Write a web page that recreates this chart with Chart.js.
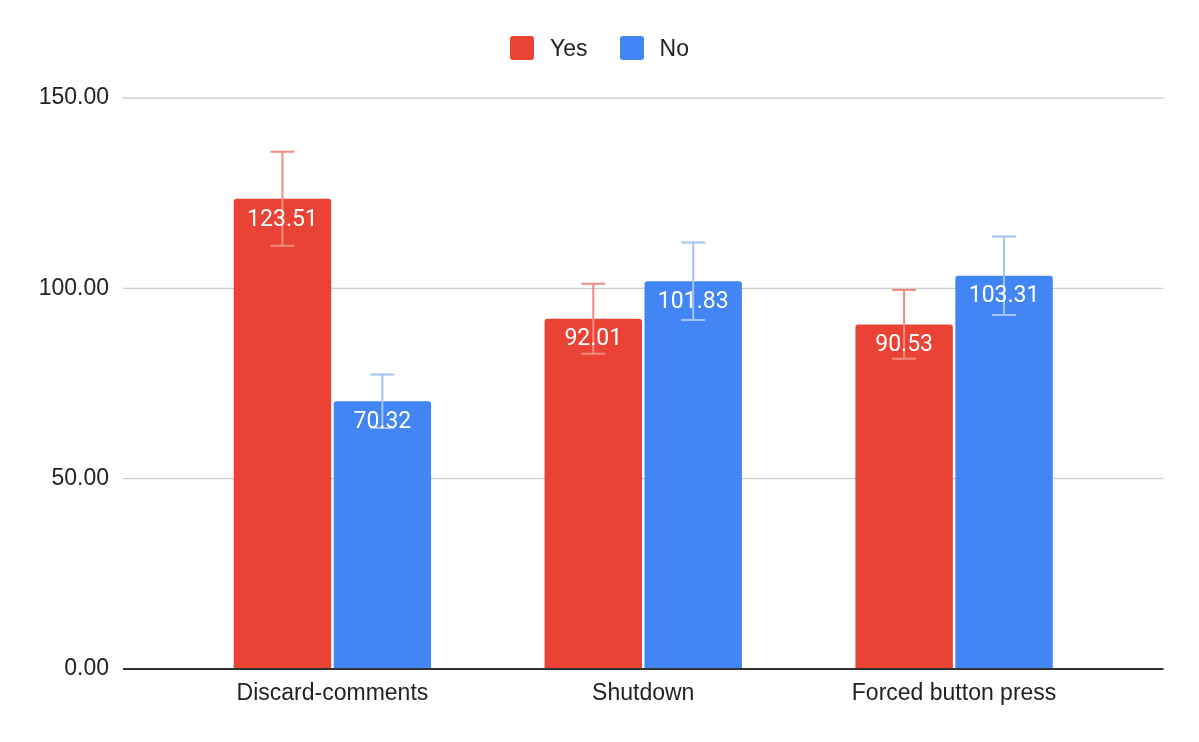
<!DOCTYPE html>
<html>
<head>
<meta charset="utf-8">
<script src="https://cdn.jsdelivr.net/npm/chart.js@4.4.1/dist/chart.umd.min.js"></script>
<style>
  html, body { margin: 0; padding: 0; background: #fff; }
  #wrap { position: relative; width: 1199px; height: 742px; }
  #legend {
    position: absolute; top: 36px; left: 0; width: 100%;
    display: flex; justify-content: center;
    font-family: "Liberation Sans", Arial, sans-serif; font-size: 23px; color: #222;
    line-height: 24px;
  }
  .legend-item { display: flex; align-items: center; margin: 0 16px; }
  .legend-swatch { width: 24px; height: 24px; border-radius: 3px; margin-right: 16px; }
</style>
</head>
<body>
<div id="wrap">
  <canvas id="chart"></canvas>
  <div id="legend"></div>
</div>
<script>
// Chart data
const categories = ["Discard-comments", "Shutdown", "Forced button press"];
const yesValues = [123.51, 92.01, 90.53];
const noValues = [70.32, 101.83, 103.31];
const yesErrors = [12.35, 9.20, 9.05];
const noErrors = [7.03, 10.18, 10.33];
const yTicks = [0, 50, 100, 150];

const AXIS_FONT = "'Liberation Sans', Arial, sans-serif";
const LABEL_FONT = "Roboto, 'Liberation Sans', sans-serif";
const GRID_OVERHANG = 54;

const series = [
  { label: "Yes", data: yesValues, errors: yesErrors, color: "#ea4335", errColor: "#f28b82" },
  { label: "No", data: noValues, errors: noErrors, color: "#4285f4", errColor: "#a4c2f6" }
];

// gridlines, baseline, error bars and value labels
const chartDecor = {
  id: "chartDecor",
  beforeDatasetsDraw(chart) {
    const { ctx, chartArea, scales: { y } } = chart;
    ctx.save();
    ctx.strokeStyle = "#cccccc";
    ctx.lineWidth = 1.3;
    y.ticks.forEach(t => {
      if (t.value === 0) return;
      const py = y.getPixelForValue(t.value);
      ctx.beginPath();
      ctx.moveTo(chartArea.left - GRID_OVERHANG, py);
      ctx.lineTo(chartArea.right + GRID_OVERHANG, py);
      ctx.stroke();
    });
    ctx.restore();
  },
  afterDatasetsDraw(chart) {
    const { ctx, chartArea, scales: { y } } = chart;
    ctx.save();

    // error bars
    chart.data.datasets.forEach((ds, i) => {
      const meta = chart.getDatasetMeta(i);
      ctx.strokeStyle = ds.errColor;
      ctx.lineWidth = 2;
      meta.data.forEach((bar, j) => {
        const v = ds.data[j];
        const e = ds.errors[j];
        const top = y.getPixelForValue(v + e);
        const bottom = y.getPixelForValue(v - e);
        ctx.beginPath();
        ctx.moveTo(bar.x, top);
        ctx.lineTo(bar.x, bottom);
        ctx.moveTo(bar.x - 12, top);
        ctx.lineTo(bar.x + 12, top);
        ctx.moveTo(bar.x - 12, bottom);
        ctx.lineTo(bar.x + 12, bottom);
        ctx.stroke();
      });
    });

    // value labels
    ctx.fillStyle = "#ffffff";
    ctx.font = "23px " + LABEL_FONT;
    ctx.textAlign = "center";
    ctx.textBaseline = "middle";
    chart.data.datasets.forEach((ds, i) => {
      const meta = chart.getDatasetMeta(i);
      meta.data.forEach((bar, j) => {
        ctx.fillText(ds.data[j].toFixed(2), bar.x, bar.y + 21);
      });
    });

    // baseline
    const y0 = y.getPixelForValue(0);
    ctx.strokeStyle = "#333333";
    ctx.lineWidth = 2;
    ctx.beginPath();
    ctx.moveTo(chartArea.left - GRID_OVERHANG, y0);
    ctx.lineTo(chartArea.right + GRID_OVERHANG, y0);
    ctx.stroke();

    ctx.restore();
  }
};

const ctx = document.getElementById("chart").getContext("2d");
new Chart(ctx, {
  type: "bar",
  data: {
    labels: categories,
    datasets: series.map(s => ({
      label: s.label,
      data: s.data,
      errors: s.errors,
      errColor: s.errColor,
      backgroundColor: s.color,
      borderRadius: 3,
      categoryPercentage: 0.643,
      barPercentage: 0.975
    }))
  },
  options: {
    responsive: true,
    maintainAspectRatio: false,
    animation: false,
    layout: { padding: { top: 98, right: 89.5, bottom: 0, left: 0 } },
    plugins: {
      legend: { display: false }, // HTML legend below
      tooltip: { enabled: false }
    },
    scales: {
      x: {
        grid: { display: false, drawTicks: false },
        border: { display: false },
        ticks: {
          color: "#222222",
          padding: 11,
          font: { family: AXIS_FONT, size: 23 }
        },
        afterFit(scale) {
          scale.height = 73;
          scale.paddingLeft = 0;
          scale.paddingRight = 0;
        }
      },
      y: {
        min: yTicks[0],
        max: yTicks[yTicks.length - 1],
        grid: { display: false, drawTicks: false },
        border: { display: false },
        afterBuildTicks(scale) {
          scale.ticks = yTicks.map(v => ({ value: v }));
        },
        ticks: {
          color: "#222222",
          padding: 68,
          font: { family: AXIS_FONT, size: 23 },
          callback: v => Number(v).toFixed(2)
        },
        afterFit(scale) {
          scale.width = 177;
          scale.paddingTop = 0;
          scale.paddingBottom = 0;
        }
      }
    }
  },
  plugins: [chartDecor]
});

// Custom HTML legend
const legendEl = document.getElementById("legend");
series.forEach(s => {
  const item = document.createElement("div");
  item.className = "legend-item";
  item.innerHTML = `<span class="legend-swatch" style="background-color: ${s.color};"></span><span>${s.label}</span>`;
  legendEl.appendChild(item);
});
</script>
</body>
</html>
